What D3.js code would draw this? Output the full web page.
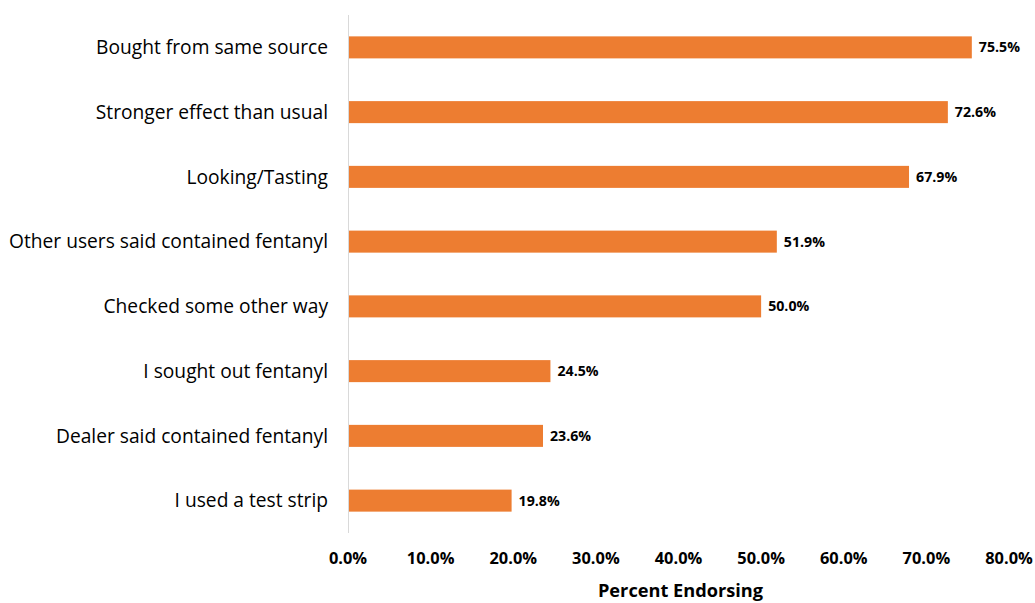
<!DOCTYPE html>
<html>
<head>
<meta charset="utf-8">
<script src="https://cdn.jsdelivr.net/npm/d3@7"></script>
<style>
  body { margin: 0; background: #fff; }
  svg { display: block; }
  .cat-label { font-family: "Open Sans", sans-serif; font-size: 19.2px; fill: #000; }
  .val-label { font-family: "Open Sans", sans-serif; font-size: 14.2px; font-weight: bold; fill: #000; }
  .tick-label { font-family: "Open Sans", sans-serif; font-size: 16.4px; font-weight: bold; fill: #000; }
  .axis-title { font-family: "Open Sans", sans-serif; font-size: 18.2px; font-weight: bold; fill: #000; }
</style>
</head>
<body>
<svg width="1035" height="603"></svg>
<script>
// Chart data
const categories = [
    "Bought from same source",
    "Stronger effect than usual",
    "Looking/Tasting",
    "Other users said contained fentanyl",
    "Checked some other way",
    "I sought out fentanyl",
    "Dealer said contained fentanyl",
    "I used a test strip"
];
const values = [75.5, 72.6, 67.9, 51.9, 50.0, 24.5, 23.6, 19.8];
const tickValues = [0, 10, 20, 30, 40, 50, 60, 70, 80];

const svg = d3.select("svg");
const margin = {left: 348, right: 26, top: 15, bottom: 70};
const width = 1035;
const height = 603;

const x = d3.scaleLinear()
    .domain([0, 80])
    .range([margin.left, width - margin.right]);

const y = d3.scaleBand()
    .domain(categories)
    .range([margin.top, height - margin.bottom])
    .paddingInner(0.66)
    .paddingOuter(0.33);

// Vertical axis line
svg.append("line")
    .attr("x1", x(0) + 0.5)
    .attr("x2", x(0) + 0.5)
    .attr("y1", margin.top)
    .attr("y2", height - margin.bottom)
    .attr("stroke", "#d9d9d9")
    .attr("stroke-width", 1);

// Bars
svg.selectAll(".bar")
    .data(values)
    .enter()
    .append("rect")
    .attr("class", "bar")
    .attr("x", x(0) + 1)
    .attr("y", (d, i) => y(categories[i]))
    .attr("width", d => x(d) - x(0) - 1)
    .attr("height", y.bandwidth())
    .attr("fill", "#ED7D31");

// Value labels
svg.selectAll(".val-label")
    .data(values)
    .enter()
    .append("text")
    .attr("class", "val-label")
    .attr("x", d => x(d) + 7)
    .attr("y", (d, i) => y(categories[i]) + y.bandwidth() / 2)
    .attr("dy", "0.35em")
    .text(d => d.toFixed(1) + "%");

// Category labels
svg.selectAll(".cat-label")
    .data(categories)
    .enter()
    .append("text")
    .attr("class", "cat-label")
    .attr("x", x(0) - 20)
    .attr("y", d => y(d) + y.bandwidth() / 2)
    .attr("dy", "0.35em")
    .attr("text-anchor", "end")
    .text(d => d);

// X tick labels
svg.selectAll(".tick-label")
    .data(tickValues)
    .enter()
    .append("text")
    .attr("class", "tick-label")
    .attr("x", d => x(d))
    .attr("y", 564)
    .attr("text-anchor", "middle")
    .text(d => d.toFixed(1) + "%");

// Axis title
svg.append("text")
    .attr("class", "axis-title")
    .attr("x", (x(0) + x(80)) / 2 + 2)
    .attr("y", 597)
    .attr("text-anchor", "middle")
    .text("Percent Endorsing");
</script>
</body>
</html>
